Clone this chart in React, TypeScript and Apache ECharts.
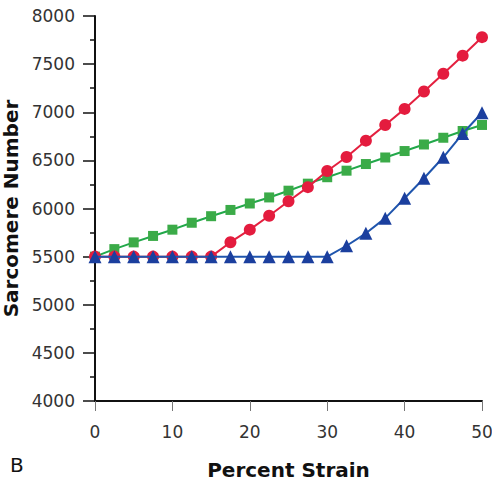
import React, { useEffect, useRef } from "react";
import * as echarts from "echarts";

const strain = [0, 2.5, 5, 7.5, 10, 12.5, 15, 17.5, 20, 22.5, 25, 27.5, 30, 32.5, 35, 37.5, 40, 42.5, 45, 47.5, 50];
const redValues = [5500, 5500, 5500, 5500, 5500, 5500, 5500, 5650, 5780, 5925, 6075, 6222, 6390, 6535, 6705, 6868, 7035, 7215, 7400, 7588, 7780];
const greenValues = [5500, 5578, 5648, 5715, 5780, 5852, 5920, 5985, 6052, 6115, 6185, 6258, 6325, 6393, 6462, 6530, 6597, 6665, 6735, 6805, 6868];
const blueValues = [5500, 5500, 5500, 5500, 5500, 5500, 5500, 5500, 5500, 5500, 5500, 5500, 5500, 5613, 5742, 5900, 6106, 6314, 6532, 6779, 6995];
const xTitle = "Percent Strain";
const yTitle = "Sarcomere Number";
const panelLabel = "B";

const pairs = (vals: number[]) => strain.map((s, i) => [s, vals[i]]);

export default function App() {
  const ref = useRef<HTMLDivElement>(null);
  useEffect(() => {
    if (!ref.current) return;
    const chart = echarts.init(ref.current, undefined, { renderer: "svg" });
    const tickFont = { fontFamily: "DejaVu Sans", fontSize: 17, color: "#333" };
    chart.setOption({
      animation: false,
      backgroundColor: "#fff",
      grid: { left: 95, right: 10, top: 16, bottom: 82, containLabel: false, outerBoundsMode: "none" },
      xAxis: {
        type: "value",
        min: 0,
        max: 50,
        interval: 10,
        name: xTitle,
        nameLocation: "middle",
        nameGap: 59,
        nameTextStyle: { fontFamily: "DejaVu Sans", fontWeight: "bold", fontSize: 20, color: "#111" },
        axisLine: { show: true, onZero: false, lineStyle: { color: "#111", width: 2 } },
        axisTick: { show: true, length: 10, lineStyle: { color: "#777", width: 1 } },
        axisLabel: { ...tickFont, margin: 22, formatter: (v: number) => String(v) },
        splitLine: { show: false },
      },
      yAxis: {
        type: "value",
        min: 4000,
        max: 8000,
        interval: 500,
        name: yTitle,
        nameLocation: "middle",
        nameGap: 68,
        nameTextStyle: { fontFamily: "DejaVu Sans", fontWeight: "bold", fontSize: 20, color: "#111" },
        axisLine: { show: true, onZero: false, lineStyle: { color: "#111", width: 2 } },
        axisTick: { show: true, length: 12, lineStyle: { color: "#111", width: 1.5 } },
        minorTick: { show: true, splitNumber: 2, length: 5, lineStyle: { color: "#111", width: 1.5 } },
        axisLabel: { ...tickFont, margin: 20, formatter: (v: number) => String(v) },
        splitLine: { show: false },
      },
      graphic: [
        {
          type: "text",
          left: 10,
          top: 455,
          style: { text: panelLabel, fontFamily: "DejaVu Sans", fontSize: 20, fill: "#111" },
        },
      ],
      series: [
        {
          type: "line",
          data: pairs(greenValues),
          symbol: "rect",
          symbolSize: 10,
          lineStyle: { color: "#22a84a", width: 2 },
          itemStyle: { color: "#3bab48" },
          z: 2,
        },
        {
          type: "line",
          data: pairs(redValues),
          symbol: "circle",
          symbolSize: 12,
          lineStyle: { color: "#e4203f", width: 2 },
          itemStyle: { color: "#e41c3e" },
          z: 3,
        },
        {
          type: "line",
          data: pairs(blueValues),
          symbol: "triangle",
          symbolSize: 13,
          lineStyle: { color: "#1f55ad", width: 2 },
          itemStyle: { color: "#1b3f9e" },
          z: 4,
        },
      ],
    });
    return () => chart.dispose();
  }, []);
  return <div ref={ref} style={{ position: "fixed", left: 0, top: 0, width: 492, height: 483 }} />;
}
